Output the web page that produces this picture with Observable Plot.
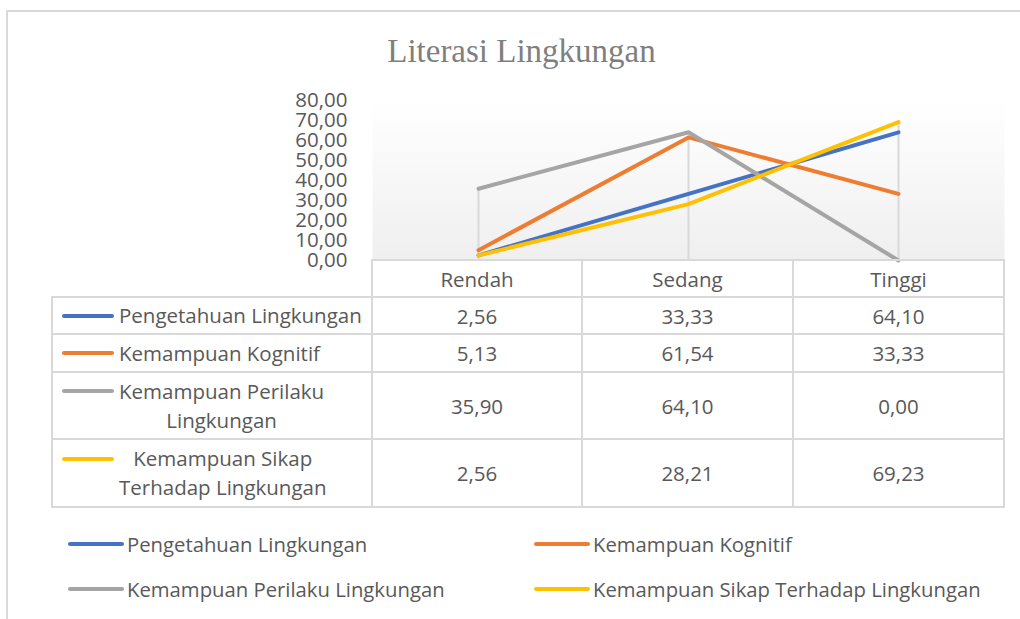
<!DOCTYPE html>
<html>
<head>
<meta charset="utf-8">
<script src="https://cdn.jsdelivr.net/npm/d3@7"></script>
<script src="https://cdn.jsdelivr.net/npm/@observablehq/plot@0.6"></script>
<style>
  body { margin: 0; background: #fff; }
  #wrap { position: relative; width: 1020px; height: 619px; overflow: hidden; font-family: "Open Sans", sans-serif; color: #595959; background: #fff; }
  #frame { position: absolute; left: 6px; top: 10px; width: 1200px; height: 800px; border: 2px solid #d9d9d9; box-sizing: border-box; }
  #title { position: absolute; left: 0; width: 1043px; top: 31px; text-align: center; font-family: "Liberation Serif", serif; font-size: 33px; line-height: 40px; color: #7f7f7f; }
  #chart { position: absolute; left: 0; top: 0; }
  #dt { position: absolute; left: 51px; top: 259px; border-collapse: collapse; table-layout: fixed; font-size: 20.5px; color: #595959; }
  #dt td { border: 2px solid #d9d9d9; padding: 0; text-align: center; vertical-align: middle; white-space: nowrap; }
  #dt td.blank { border-top: none; border-left: none; }
  .lab { display: flex; align-items: flex-start; padding-left: 9px; line-height: 29px; }
  .sw { flex: none; width: 52px; height: 4px; border-radius: 2px; margin-top: 12.5px; margin-right: 5px; }
  .txt { text-align: center; white-space: nowrap; }
  #legend { position: absolute; left: 68px; top: 521px; display: grid; grid-template-columns: 466px 466px; grid-auto-rows: 45px; font-size: 20.3px; color: #595959; }
  .li { display: flex; align-items: center; white-space: nowrap; }
  .li .lsw { width: 56px; height: 4px; border-radius: 2px; margin-right: 3px; }
</style>
</head>
<body>
<div id="wrap">
  <div id="frame"></div>
  <div id="chart"></div>
  <div id="title"></div>
  <div id="legend"></div>
</div>
<script>
const titleText = "Literasi Lingkungan";
const categories = ["Rendah", "Sedang", "Tinggi"];
const seriesNames = ["Pengetahuan Lingkungan", "Kemampuan Kognitif", "Kemampuan Perilaku Lingkungan", "Kemampuan Sikap Terhadap Lingkungan"];
const tableLabelLines = [["Pengetahuan Lingkungan"], ["Kemampuan Kognitif"], ["Kemampuan Perilaku", "Lingkungan"], ["Kemampuan Sikap", "Terhadap Lingkungan"]];
const pengetahuan = [2.56, 33.33, 64.10];
const kognitif = [5.13, 61.54, 33.33];
const perilaku = [35.90, 64.10, 0.00];
const sikap = [2.56, 28.21, 69.23];
const seriesColors = ["#4472C4", "#ED7D31", "#A5A5A5", "#FFC000"];
const yTicks = [0, 10, 20, 30, 40, 50, 60, 70, 80];

const values = [pengetahuan, kognitif, perilaku, sikap];
const fmt = v => v.toFixed(2).replace(".", ",");

const rows = seriesNames.flatMap((s, i) => categories.map((c, j) => ({series: s, category: c, value: values[i][j]})));
const drops = categories.map((c, j) => ({category: c, max: d3.max(values, v => v[j])}));

document.getElementById("title").textContent = titleText;

const chart = Plot.plot({
  width: 1020,
  height: 262,
  marginTop: 100,
  marginBottom: 2,
  marginLeft: 372,
  marginRight: 16,
  x: {type: "point", domain: categories, padding: 0.5, axis: null},
  y: {domain: [0, 80], axis: null},
  color: {domain: seriesNames, range: seriesColors},
  style: {fontFamily: "Open Sans", fontSize: "20.5px", color: "#595959", background: "transparent", overflow: "visible"},
  marks: [
    Plot.frame({fill: "url(#plotGrad)", stroke: null}),
    Plot.ruleX(drops, {x: "category", y1: 0, y2: "max", stroke: "#d9d9d9", strokeWidth: 2}),
    Plot.line(rows, {x: "category", y: "value", z: "series", stroke: "series", strokeWidth: 4, strokeLinecap: "round", strokeLinejoin: "round"}),
    Plot.axisY({ticks: yTicks, tickSize: 0, tickPadding: 25, tickFormat: fmt, fontSize: 20.5, fill: "#595959"})
  ]
});
const svg = chart.tagName.toLowerCase() === "svg" ? chart : chart.querySelector("svg");
const ns = "http://www.w3.org/2000/svg";
const defs = document.createElementNS(ns, "defs");
const grad = document.createElementNS(ns, "linearGradient");
grad.setAttribute("id", "plotGrad");
grad.setAttribute("x1", "0"); grad.setAttribute("y1", "0");
grad.setAttribute("x2", "0"); grad.setAttribute("y2", "1");
[["0", "#ffffff"], ["1", "#efefef"]].forEach(([o, c]) => {
  const st = document.createElementNS(ns, "stop");
  st.setAttribute("offset", o); st.setAttribute("stop-color", c);
  grad.appendChild(st);
});
defs.appendChild(grad);
svg.insertBefore(defs, svg.firstChild);
document.getElementById("chart").appendChild(chart);

// data table
const colWidths = [320, 210, 211, 211];
const rowHeights = [37, 37, 38, 67, 68];
const tbl = document.createElement("table");
tbl.id = "dt";
const cg = document.createElement("colgroup");
colWidths.forEach(w => { const c = document.createElement("col"); c.style.width = w + "px"; cg.appendChild(c); });
tbl.appendChild(cg);
tbl.style.width = d3.sum(colWidths) + "px";
const hr = document.createElement("tr");
hr.style.height = rowHeights[0] + "px";
const blank = document.createElement("td"); blank.className = "blank"; hr.appendChild(blank);
categories.forEach(c => { const td = document.createElement("td"); td.textContent = c; hr.appendChild(td); });
tbl.appendChild(hr);
seriesNames.forEach((s, i) => {
  const tr = document.createElement("tr");
  tr.style.height = rowHeights[i + 1] + "px";
  const lt = document.createElement("td");
  const lab = document.createElement("div"); lab.className = "lab";
  const sw = document.createElement("span"); sw.className = "sw"; sw.style.background = seriesColors[i];
  const tx = document.createElement("span"); tx.className = "txt";
  tableLabelLines[i].forEach((line, k) => { if (k) tx.appendChild(document.createElement("br")); tx.appendChild(document.createTextNode(line)); });
  lab.appendChild(sw); lab.appendChild(tx); lt.appendChild(lab); tr.appendChild(lt);
  values[i].forEach(v => { const td = document.createElement("td"); td.textContent = fmt(v); tr.appendChild(td); });
  tbl.appendChild(tr);
});
document.getElementById("wrap").appendChild(tbl);

// legend
const lg = document.getElementById("legend");
seriesNames.forEach((s, i) => {
  const it = document.createElement("div"); it.className = "li";
  const sw = document.createElement("span"); sw.className = "lsw"; sw.style.background = seriesColors[i];
  const tx = document.createElement("span"); tx.textContent = s;
  it.appendChild(sw); it.appendChild(tx); lg.appendChild(it);
});
</script>
</body>
</html>
